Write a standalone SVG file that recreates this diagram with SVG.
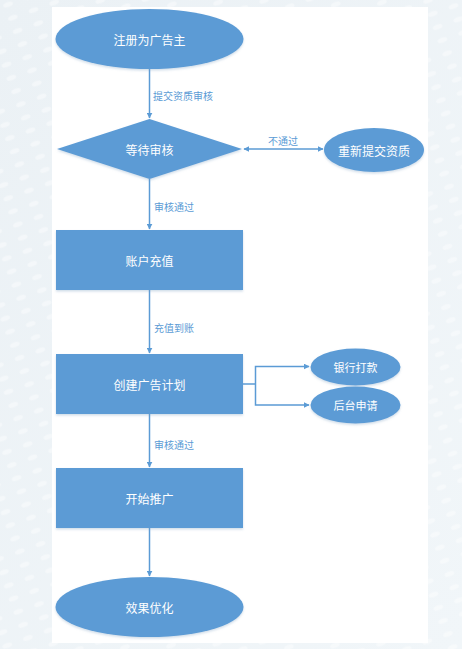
<svg xmlns="http://www.w3.org/2000/svg" width="462" height="649" viewBox="0 0 462 649">
<style>
.node{fill:#5b9bd5;filter:url(#sh)}
.nt{fill:#ffffff;font-family:"Noto Sans CJK SC","Noto Sans",sans-serif;font-size:12px;text-anchor:middle;dominant-baseline:central}
.lt{fill:#5b9bd5;font-family:"Noto Sans CJK SC","Noto Sans",sans-serif;font-size:10px;dominant-baseline:central}
.ln{fill:none;stroke:#5b9bd5;stroke-width:1.5}
</style>
<defs>
<marker id="ah" viewBox="0 0 10 10" refX="9" refY="5" markerWidth="6" markerHeight="6" orient="auto-start-reverse" markerUnits="userSpaceOnUse">
<path d="M0,0 L10,5 L0,10 z" fill="#5b9bd5"/>
</marker>
<filter id="sh" x="-10%" y="-10%" width="120%" height="130%">
<feDropShadow dx="0" dy="1.5" stdDeviation="1.2" flood-color="#7a9cc0" flood-opacity="0.35"/>
</filter>
<pattern id="dots" width="22" height="14" patternUnits="userSpaceOnUse" patternTransform="rotate(-20)">
<ellipse cx="6" cy="7" rx="5" ry="2.5" fill="#ffffff" opacity="0.8"/>
</pattern>
<linearGradient id="bg" x1="0" y1="0" x2="1" y2="1">
<stop offset="0" stop-color="#ebf1f5"/>
<stop offset="1" stop-color="#f1f6f9"/>
</linearGradient>
</defs>
<rect x="0" y="0" width="462" height="649" fill="url(#bg)"/>
<rect x="0" y="0" width="462" height="649" fill="url(#dots)" opacity="0.5"/>
<rect x="52" y="7" width="376" height="636" fill="#ffffff"/>

<g id="connectors">
<line class="ln" x1="149.5" y1="69" x2="149.5" y2="118" marker-end="url(#ah)"/>
<text class="lt" x="153" y="95">提交资质审核</text>
<line class="ln" x1="244" y1="149" x2="323" y2="149" marker-start="url(#ah)" marker-end="url(#ah)"/>
<text class="lt" x="268" y="140">不通过</text>
<line class="ln" x1="149.5" y1="179" x2="149.5" y2="229" marker-end="url(#ah)"/>
<text class="lt" x="154" y="206">审核通过</text>
<line class="ln" x1="149.5" y1="290" x2="149.5" y2="353" marker-end="url(#ah)"/>
<text class="lt" x="154" y="327">充值到账</text>
<polyline class="ln" points="243,384 255.5,384"/>
<polyline class="ln" points="309,366.5 255.5,366.5 255.5,405 309,405" marker-start="url(#ah)" marker-end="url(#ah)"/>
<line class="ln" x1="149.5" y1="414" x2="149.5" y2="467" marker-end="url(#ah)"/>
<text class="lt" x="154" y="444">审核通过</text>
<line class="ln" x1="149.5" y1="528" x2="149.5" y2="576" marker-end="url(#ah)"/>
</g>

<g id="n1"><ellipse class="node" cx="149.5" cy="39" rx="94" ry="30"/><text class="nt" x="149.5" y="39">注册为广告主</text></g>
<g id="n2"><polygon class="node" points="149.5,119 242,149 149.5,179 57,149"/><text class="nt" x="149.5" y="149">等待审核</text></g>
<g id="n3"><ellipse class="node" cx="374" cy="150" rx="50" ry="22"/><text class="nt" x="374" y="150">重新提交资质</text></g>
<g id="n4"><rect class="node" x="56" y="230" width="187" height="60"/><text class="nt" x="149.5" y="260">账户充值</text></g>
<g id="n5"><rect class="node" x="56" y="354" width="187" height="60"/><text class="nt" x="149.5" y="384">创建广告计划</text></g>
<g id="n6"><ellipse class="node" cx="355.5" cy="367" rx="45" ry="18.5"/><text class="nt" x="355.5" y="367" style="font-size:11px">银行打款</text></g>
<g id="n7"><ellipse class="node" cx="355.5" cy="405" rx="45" ry="18.5"/><text class="nt" x="355.5" y="405" style="font-size:11px">后台申请</text></g>
<g id="n8"><rect class="node" x="56" y="468" width="187" height="60"/><text class="nt" x="149.5" y="498">开始推广</text></g>
<g id="n9"><ellipse class="node" cx="149.5" cy="607" rx="94" ry="30"/><text class="nt" x="149.5" y="607">效果优化</text></g>
</svg>
